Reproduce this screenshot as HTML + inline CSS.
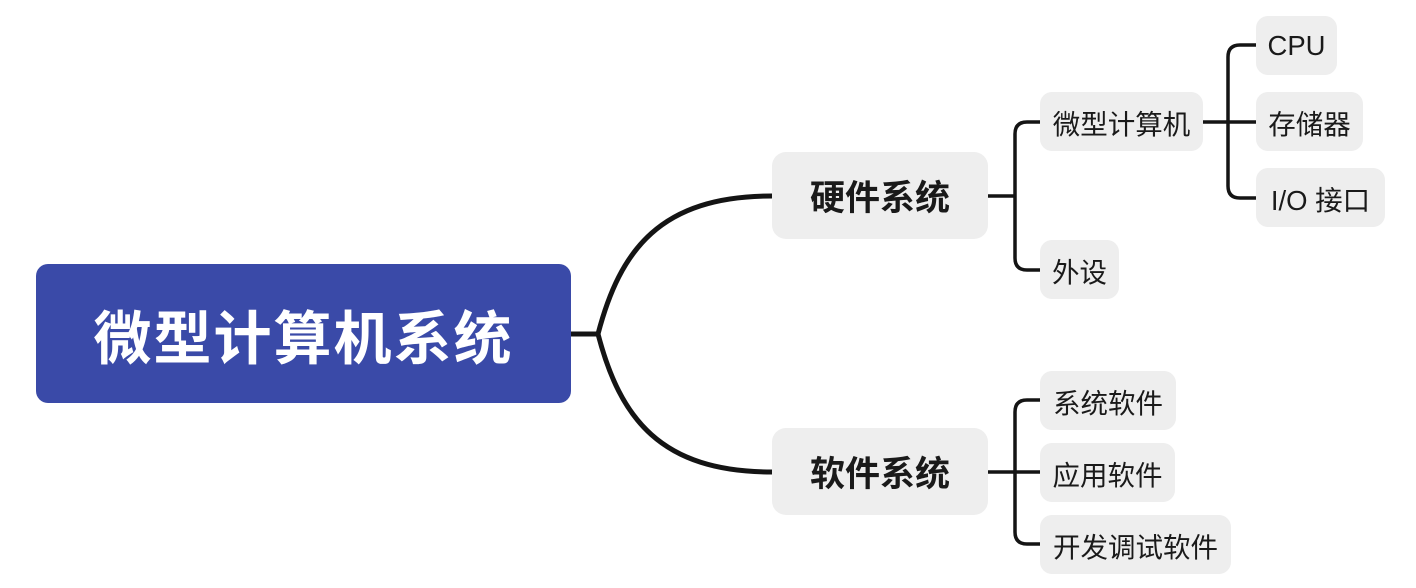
<!DOCTYPE html>
<html><head><meta charset="utf-8"><style>
html,body{margin:0;padding:0;background:#fff;}
body{width:1416px;height:588px;position:relative;overflow:hidden;font-family:"Liberation Sans","Noto Sans CJK SC",sans-serif;}
.n{position:absolute;background:#eeeeee;border-radius:12px;display:flex;align-items:center;justify-content:center;color:#1a1a1a;font-size:27.5px;}
.l1{font-size:35px;font-weight:bold;border-radius:14px;}
.root{background:#3a4aa8;color:#fff;font-size:58px;font-weight:bold;border-radius:12px;letter-spacing:2px;}
svg{position:absolute;left:0;top:0;}
</style></head><body>
<svg width="1416" height="588">
<g fill="none" stroke="#141414" stroke-linecap="butt">
<path d="M571 334 H598 C620 250 660 196 772 196" stroke-width="5"/>
<path d="M598 334 C620 418 660 472 772 472" stroke-width="5"/>
<path d="M988 196 H1015 M1040 122 H1027 Q1015 122 1015 134 V258 Q1015 270 1027 270 H1040" stroke-width="3.5"/>
<path d="M1203 122 H1256 M1256 45 H1240 Q1228 45 1228 57 V186 Q1228 198 1240 198 H1256" stroke-width="3.5"/>
<path d="M988 472 H1040 M1040 400 H1027 Q1015 400 1015 412 V532 Q1015 544 1027 544 H1040" stroke-width="3.5"/>
</g>
</svg>
<div class="n root" style="left:36px;top:264px;width:535px;height:139px;">微型计算机系统</div>
<div class="n l1" style="left:772px;top:152px;width:216px;height:87px;">硬件系统</div>
<div class="n l1" style="left:772px;top:428px;width:216px;height:87px;">软件系统</div>
<div class="n" style="left:1040px;top:92px;width:163px;height:59px;">微型计算机</div>
<div class="n" style="left:1040px;top:240px;width:79px;height:59px;">外设</div>
<div class="n" style="left:1256px;top:16px;width:81px;height:59px;">CPU</div>
<div class="n" style="left:1256px;top:92px;width:107px;height:59px;">存储器</div>
<div class="n" style="left:1256px;top:168px;width:129px;height:59px;">I/O 接口</div>
<div class="n" style="left:1040px;top:371px;width:136px;height:59px;">系统软件</div>
<div class="n" style="left:1040px;top:443px;width:135px;height:59px;">应用软件</div>
<div class="n" style="left:1040px;top:515px;width:191px;height:59px;">开发调试软件</div>
</body></html>
